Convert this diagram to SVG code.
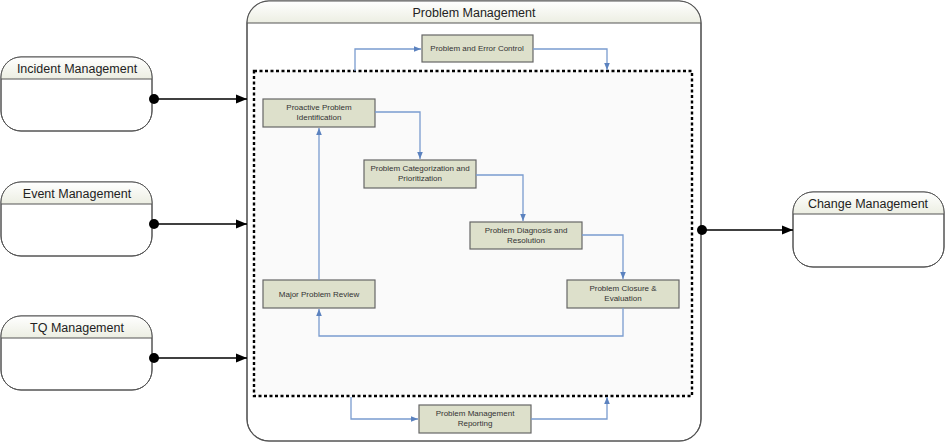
<svg xmlns="http://www.w3.org/2000/svg" width="945" height="445" viewBox="0 0 945 445">
<defs>
<linearGradient id="hdr" x1="0" y1="0" x2="0" y2="1">
<stop offset="0" stop-color="#ffffff"/>
<stop offset="1" stop-color="#eceee2"/>
</linearGradient>
<marker id="ab" viewBox="0 0 10 10" refX="10" refY="5" markerWidth="7" markerHeight="7" markerUnits="userSpaceOnUse" orient="auto">
<path d="M0,1 L10,5 L0,9 Z" fill="#5b82bf"/>
</marker>
<marker id="ak" viewBox="0 0 10 10" refX="10" refY="5" markerWidth="11" markerHeight="11" markerUnits="userSpaceOnUse" orient="auto">
<path d="M0,1 L10,5 L0,9 Z" fill="#000"/>
</marker>
<marker id="dot" viewBox="0 0 10 10" refX="5" refY="5" markerWidth="10" markerHeight="10" markerUnits="userSpaceOnUse">
<circle cx="5" cy="5" r="5" fill="#000"/>
</marker>
<clipPath id="c1"><rect x="1" y="57" width="151" height="74" rx="20"/></clipPath>
<clipPath id="c2"><rect x="1" y="182" width="151" height="74" rx="20"/></clipPath>
<clipPath id="c3"><rect x="1" y="316" width="151" height="74" rx="20"/></clipPath>
<clipPath id="c4"><rect x="793" y="192" width="151" height="75" rx="20"/></clipPath>
<clipPath id="c5"><rect x="247" y="1" width="454" height="440" rx="22"/></clipPath>
</defs>
<style>
.mbox{fill:#fff;stroke:#555;stroke-width:1}
.mline{stroke:#555;stroke-width:1}
.mtitle{font-family:"Liberation Sans",Arial,sans-serif;font-size:12.5px;fill:#222;text-anchor:middle}
.node{fill:#dde0cb;stroke:#666;stroke-width:1.2}
.ntext{font-family:"Liberation Sans",Arial,sans-serif;font-size:8px;fill:#333;text-anchor:middle}
.blue{fill:none;stroke:#7a9ccf;stroke-width:1.3;marker-end:url(#ab)}
.blk{fill:none;stroke:#000;stroke-width:1.6;marker-start:url(#dot);marker-end:url(#ak)}
</style>

<g id="problem-management">
<rect x="247" y="1" width="454" height="440" rx="22" class="mbox"/>
<rect x="247" y="1" width="454" height="22" fill="url(#hdr)" clip-path="url(#c5)"/>
<rect x="247" y="1" width="454" height="440" rx="22" fill="none" stroke="#555" stroke-width="1.2"/>
<line x1="247" y1="23" x2="701" y2="23" class="mline"/>
<text x="474" y="17" class="mtitle">Problem Management</text>
<rect x="254" y="71" width="438" height="325" fill="#fafafa" stroke="#000" stroke-width="2.4" stroke-dasharray="3,2.5"/>
</g>

<g id="incident-management">
<rect x="1" y="57" width="151" height="74" rx="20" class="mbox"/>
<rect x="1" y="57" width="151" height="22" fill="url(#hdr)" clip-path="url(#c1)"/>
<rect x="1" y="57" width="151" height="74" rx="20" fill="none" stroke="#555"/>
<line x1="1" y1="79" x2="152" y2="79" class="mline"/>
<text x="77" y="73" class="mtitle">Incident Management</text>
</g>

<g id="event-management">
<rect x="1" y="182" width="151" height="74" rx="20" class="mbox"/>
<rect x="1" y="182" width="151" height="22" fill="url(#hdr)" clip-path="url(#c2)"/>
<rect x="1" y="182" width="151" height="74" rx="20" fill="none" stroke="#555"/>
<line x1="1" y1="204" x2="152" y2="204" class="mline"/>
<text x="77" y="198" class="mtitle">Event Management</text>
</g>

<g id="tq-management">
<rect x="1" y="316" width="151" height="74" rx="20" class="mbox"/>
<rect x="1" y="316" width="151" height="22" fill="url(#hdr)" clip-path="url(#c3)"/>
<rect x="1" y="316" width="151" height="74" rx="20" fill="none" stroke="#555"/>
<line x1="1" y1="338" x2="152" y2="338" class="mline"/>
<text x="77" y="332" class="mtitle">TQ Management</text>
</g>

<g id="change-management">
<rect x="793" y="192" width="151" height="75" rx="20" class="mbox"/>
<rect x="793" y="192" width="151" height="22" fill="url(#hdr)" clip-path="url(#c4)"/>
<rect x="793" y="192" width="151" height="75" rx="20" fill="none" stroke="#555"/>
<line x1="793" y1="214" x2="944" y2="214" class="mline"/>
<text x="868" y="208" class="mtitle">Change Management</text>
</g>

<g id="problem-error-control">
<rect x="422" y="35" width="111" height="27" class="node"/>
<text x="477" y="51" class="ntext">Problem and Error Control</text>
</g>

<g id="proactive-identification">
<rect x="263" y="99" width="112" height="28" class="node"/>
<text x="319" y="110" class="ntext">Proactive Problem</text>
<text x="319" y="119.5" class="ntext">Identification</text>
</g>

<g id="categorization">
<rect x="364" y="160" width="112" height="28" class="node"/>
<text x="420" y="171" class="ntext">Problem Categorization and</text>
<text x="420" y="180.5" class="ntext">Prioritization</text>
</g>

<g id="diagnosis">
<rect x="470" y="222" width="112" height="27" class="node"/>
<text x="526" y="233" class="ntext">Problem Diagnosis and</text>
<text x="526" y="242.5" class="ntext">Resolution</text>
</g>

<g id="closure">
<rect x="567" y="280" width="112" height="28" class="node"/>
<text x="623" y="291" class="ntext">Problem Closure &amp;</text>
<text x="623" y="300.5" class="ntext">Evaluation</text>
</g>

<g id="major-review">
<rect x="263" y="280" width="112" height="28" class="node"/>
<text x="319" y="297" class="ntext">Major Problem Review</text>
</g>

<g id="reporting">
<rect x="419" y="405" width="112" height="28" class="node"/>
<text x="475" y="416" class="ntext">Problem Management</text>
<text x="475" y="425.5" class="ntext">Reporting</text>
</g>

<g id="connectors">
<path d="M355,71 V49 H421" class="blue"/>
<path d="M533,49 H607 V70" class="blue"/>
<path d="M375,112 H420 V159" class="blue"/>
<path d="M476,175 H523 V221" class="blue"/>
<path d="M582,235 H623 V279" class="blue"/>
<path d="M623,308 V336 H319 V309" class="blue"/>
<path d="M319,280 V128" class="blue"/>
<path d="M351,397 V419 H418" class="blue"/>
<path d="M531,419 H607 V397" class="blue"/>
<path d="M154,99 H247" class="blk"/>
<path d="M154,224 H247" class="blk"/>
<path d="M154,358 H247" class="blk"/>
<path d="M702,230 H793" class="blk"/>
</g>
</svg>
